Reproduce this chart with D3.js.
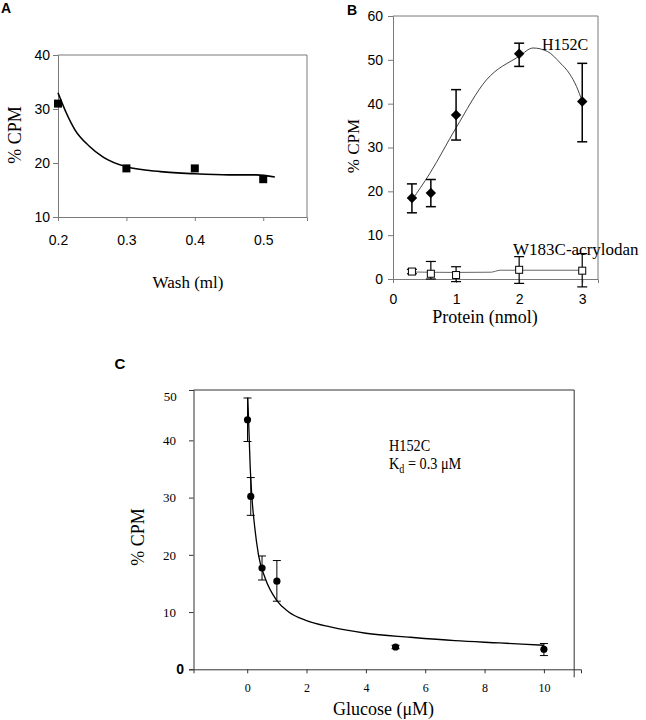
<!DOCTYPE html>
<html>
<head>
<meta charset="utf-8">
<script src="https://cdn.jsdelivr.net/npm/d3@7"></script>
<style>
  body { margin: 0; background: #fff; }
  svg { display: block; }
  .serif { font-family: "Liberation Serif", "Times New Roman", serif; }
  .sans { font-family: "Liberation Sans", Arial, sans-serif; }
</style>
</head>
<body>
<svg id="fig" width="646" height="720"></svg>
<script>
// ---- Panel A data: wash volume vs % CPM
const washX = [0.2, 0.3, 0.4, 0.5];
const washY = [31, 19, 19, 17];
const washFitX = [0.2, 0.212, 0.225, 0.245, 0.266, 0.3, 0.35, 0.4, 0.45, 0.49, 0.517];
const washFitY = [33, 29.3, 26.1, 23.2, 21.1, 19.3, 18.4, 18.0, 17.8, 17.8, 17.4];
const washTicksX = [0.2, 0.3, 0.4, 0.5];
const washTicksY = [10, 20, 30, 40];

// ---- Panel B data: protein amount vs % CPM
const protX = [0.3, 0.6, 1, 2, 3];
const h152Y = [18.5, 19.6, 37.4, 51.4, 40.5];
const h152Hi = [21.7, 22.7, 43.2, 53.8, 49.2];
const h152Lo = [15.1, 16.5, 31.7, 48.5, 31.3];
const h152FitX = [0.3, 0.58, 1.0, 1.48, 2.0, 2.22, 2.45, 2.65, 2.8, 2.91, 3.0];
const h152FitY = [18, 24, 34.5, 45.4, 50.8, 52.7, 51.9, 49.3, 46.8, 43.9, 40.5];
const w183Y = [1.7, 1.2, 0.9, 2.1, 1.9];
const w183Hi = [2.2, 4.0, 2.8, 5.1, 5.8];
const w183Lo = [1.2, 0.0, -0.6, -1.0, -1.8];
const w183FitX = [0.3, 1.0, 1.55, 1.7, 2.0, 3.0];
const w183FitY = [1.6, 1.5, 1.55, 2.0, 2.0, 2.0];
const protTicksX = [0, 1, 2, 3];
const protTicksY = [0, 10, 20, 30, 40, 50, 60];

// ---- Panel C data: glucose vs % CPM
const glcX = [0.01, 0.12, 0.5, 1, 5, 10];
const glcY = [43.6, 30.2, 17.7, 15.4, 3.9, 3.5];
const glcHi = [47.4, 33.5, 19.8, 19.0, 4.2, 4.5];
const glcLo = [39.8, 26.9, 15.6, 11.9, 3.6, 2.4];
const glcFitX = [0.02, 0.05, 0.07, 0.1, 0.16, 0.25, 0.38, 0.6, 1.0, 1.4, 2.0, 2.8, 4.0, 5.5, 7.0, 8.5, 10.0];
const glcFitY = [47.5, 43.0, 40.0, 35.5, 30.0, 25.0, 20.0, 16.0, 12.0, 10.0, 8.5, 7.4, 6.3, 5.6, 5.0, 4.6, 4.2];
const glcTicksX = [0, 2, 4, 6, 8, 10];
const glcTicksY = [0, 10, 20, 30, 40];

const svg = d3.select("#fig");
const grey = "#7a7a7a";
const serifFont = "'Liberation Serif', 'Times New Roman', serif";
const sansFont = "'Liberation Sans', Arial, sans-serif";

function errorBars(g, xs, lo, hi, x, y, cap, width) {
  xs.forEach((v, i) => {
    g.append("line").attr("x1", x(v)).attr("x2", x(v))
      .attr("y1", y(lo[i])).attr("y2", y(hi[i]))
      .attr("stroke", "#000").attr("stroke-width", width);
    [lo[i], hi[i]].forEach(e => {
      g.append("line").attr("x1", x(v) - cap).attr("x2", x(v) + cap)
        .attr("y1", y(e)).attr("y2", y(e))
        .attr("stroke", "#000").attr("stroke-width", width);
    });
  });
}

// Panel A
(function() {
  const x = d3.scaleLinear().domain([0.2, 0.564]).range([58, 307]);
  const y = d3.scaleLinear().domain([10, 40]).range([217, 55]);
  const g = svg.append("g");

  // plot frame
  g.append("path")
    .attr("d", `M${x(0.2)},${y(40)}H${x(0.564)}V${y(10)}`)
    .attr("fill", "none").attr("stroke", grey);

  const ay = g.append("g").attr("transform", `translate(${x(0.2)},0)`)
    .call(d3.axisLeft(y).tickValues(washTicksY).tickSize(5).tickPadding(3).tickFormat(d3.format("d")));
  const ax = g.append("g").attr("transform", `translate(0,${y(10)})`)
    .call(d3.axisBottom(x).tickValues(washTicksX).tickSize(4).tickPadding(14).tickFormat(d3.format(".1f")));
  [ay, ax].forEach(a => {
    a.select(".domain").attr("stroke", grey);
    a.selectAll(".tick line").attr("stroke", grey);
    a.selectAll("text").style("font-family", sansFont).style("font-size", "14px").attr("fill", "#000");
  });

  const line = d3.line().x((d, i) => x(washFitX[i])).y(d => y(d)).curve(d3.curveMonotoneX);
  g.append("path").datum(washFitY).attr("d", line)
    .attr("fill", "none").attr("stroke", "#000").attr("stroke-width", 1.6);

  g.selectAll(".sq").data(washY).enter().append("rect")
    .attr("x", (d, i) => x(washX[i]) - 4).attr("y", d => y(d) - 4)
    .attr("width", 8).attr("height", 8).attr("fill", "#000");

  g.append("text").attr("class", "serif").attr("x", 188).attr("y", 288)
    .attr("text-anchor", "middle").style("font-size", "17px").text("Wash (ml)");
  g.append("text").attr("class", "serif")
    .attr("transform", "translate(21,135) rotate(-90)")
    .attr("text-anchor", "middle").style("font-size", "18px").text("% CPM");
  g.append("text").attr("class", "sans").attr("x", 1).attr("y", 13)
    .style("font-size", "14px").style("font-weight", "bold").text("A");
})();

// Panel B
(function() {
  const x = d3.scaleLinear().domain([0, 3.25]).range([393, 598]);
  const y = d3.scaleLinear().domain([0, 60]).range([279, 16]);
  const g = svg.append("g");

  g.append("path")
    .attr("d", `M${x(0)},${y(60)}H${x(3.25)}V${y(0)}`)
    .attr("fill", "none").attr("stroke", grey);

  const ay = g.append("g").attr("transform", `translate(${x(0)},0)`)
    .call(d3.axisLeft(y).tickValues(protTicksY).tickSize(5).tickPadding(5).tickFormat(d3.format("d")));
  const ax = g.append("g").attr("transform", `translate(0,${y(0)})`)
    .call(d3.axisBottom(x).tickValues(protTicksX).tickSize(4).tickPadding(11).tickFormat(d3.format("d")));
  [ay, ax].forEach(a => {
    a.select(".domain").attr("stroke", grey);
    a.selectAll(".tick line").attr("stroke", grey);
    a.selectAll("text").style("font-family", sansFont).style("font-size", "14px").attr("fill", "#000");
  });

  const fitH = d3.line().x((d, i) => x(h152FitX[i])).y(d => y(d)).curve(d3.curveMonotoneX);
  g.append("path").datum(h152FitY).attr("d", fitH)
    .attr("fill", "none").attr("stroke", "#444").attr("stroke-width", 1);
  const fitW = d3.line().x((d, i) => x(w183FitX[i])).y(d => y(d)).curve(d3.curveMonotoneX);
  g.append("path").datum(w183FitY).attr("d", fitW)
    .attr("fill", "none").attr("stroke", "#666").attr("stroke-width", 1);

  errorBars(g, protX, h152Lo, h152Hi, x, y, 5, 1.5);
  errorBars(g, protX, w183Lo, w183Hi, x, y, 5, 1.2);

  g.selectAll(".dia").data(h152Y).enter().append("path")
    .attr("d", d3.symbol().type(d3.symbolDiamond2).size(70))
    .attr("transform", (d, i) => `translate(${x(protX[i])},${y(d)})`)
    .attr("fill", "#000");
  g.selectAll(".osq").data(w183Y).enter().append("rect")
    .attr("x", (d, i) => x(protX[i]) - 3.5).attr("y", d => y(d) - 3.5)
    .attr("width", 7).attr("height", 7)
    .attr("fill", "#fff").attr("stroke", "#000").attr("stroke-width", 1);

  g.append("text").attr("class", "serif").attr("x", 542).attr("y", 50)
    .style("font-size", "16px").text("H152C");
  g.append("text").attr("class", "serif").attr("x", 513).attr("y", 255)
    .style("font-size", "17px").text("W183C-acrylodan");
  g.append("text").attr("class", "serif").attr("x", 485).attr("y", 323)
    .attr("text-anchor", "middle").style("font-size", "18px").text("Protein (nmol)");
  g.append("text").attr("class", "serif")
    .attr("transform", "translate(359,146) rotate(-90)")
    .attr("text-anchor", "middle").style("font-size", "17px").text("% CPM");
  g.append("text").attr("class", "sans").attr("x", 347).attr("y", 15)
    .style("font-size", "14px").style("font-weight", "bold").text("B");
})();

// Panel C
(function() {
  const x = d3.scaleLinear().domain([-1.81, 11.25]).range([193.5, 581]);
  const y = d3.scaleLinear().domain([0, 48.8]).range([669.3, 390]);
  const g = svg.append("g");

  g.append("path")
    .attr("d", `M${x(-1.81)},${y(48.8)}H${x(11.02)}V${y(0) + 8}`)
    .attr("fill", "none").attr("stroke", "#333").attr("stroke-width", 1);

  const ay = g.append("g").attr("transform", `translate(${x(-1.81)},0)`)
    .call(d3.axisLeft(y).tickValues(glcTicksY).tickSize(4.5).tickPadding(13));
  const ax = g.append("g").attr("transform", `translate(0,${y(0)})`)
    .call(d3.axisBottom(x).tickValues(glcTicksX).tickSize(4).tickPadding(10));
  ay.selectAll("text").style("font-family", serifFont).style("font-size", "13px");
  ax.selectAll("text").style("font-family", serifFont).style("font-size", "12px");
  ay.selectAll(".tick").filter(d => d === 0).select("text")
    .style("font-family", sansFont).style("font-size", "14px").style("font-weight", "bold").attr("x", -9.5);
  [ay, ax].forEach(a => a.selectAll("path, line").attr("stroke", "#333"));
  // top label of the y axis sits below the frame in the original
  g.append("text").attr("class", "serif").attr("x", 176.7).attr("y", y(47.6))
    .attr("dy", "0.32em").attr("text-anchor", "end").style("font-size", "13px").text("50");

  const fit = d3.line().x((d, i) => x(glcFitX[i])).y(d => y(d)).curve(d3.curveMonotoneX);
  g.append("path").datum(glcFitY).attr("d", fit)
    .attr("fill", "none").attr("stroke", "#000").attr("stroke-width", 1.3);

  errorBars(g, glcX, glcLo, glcHi, x, y, 4, 1);

  g.selectAll(".dot").data(glcY).enter().append("circle")
    .attr("cx", (d, i) => x(glcX[i])).attr("cy", d => y(d)).attr("r", 3.6)
    .attr("fill", "#000");

  const note = g.append("g").attr("transform", "translate(389,451) scale(0.84,1)");
  note.append("text").attr("class", "serif").style("font-size", "17px").text("H152C");
  const kd = note.append("text").attr("class", "serif").attr("y", 18).style("font-size", "17px");
  kd.append("tspan").text("K");
  kd.append("tspan").attr("dy", 4).style("font-size", "12px").text("d");
  kd.append("tspan").attr("dy", -4).text(" = 0.3 \u03BCM");

  g.append("text").attr("class", "serif").attr("x", 383.5).attr("y", 715)
    .attr("text-anchor", "middle").style("font-size", "18px").text("Glucose (\u03BCM)");
  g.append("text").attr("class", "serif")
    .attr("transform", "translate(144,537) rotate(-90)")
    .attr("text-anchor", "middle").style("font-size", "18px").text("% CPM");
  g.append("text").attr("class", "sans").attr("x", 120).attr("y", 369)
    .attr("text-anchor", "middle").style("font-size", "15px").style("font-weight", "bold").text("C");
})();
</script>
</body>
</html>
